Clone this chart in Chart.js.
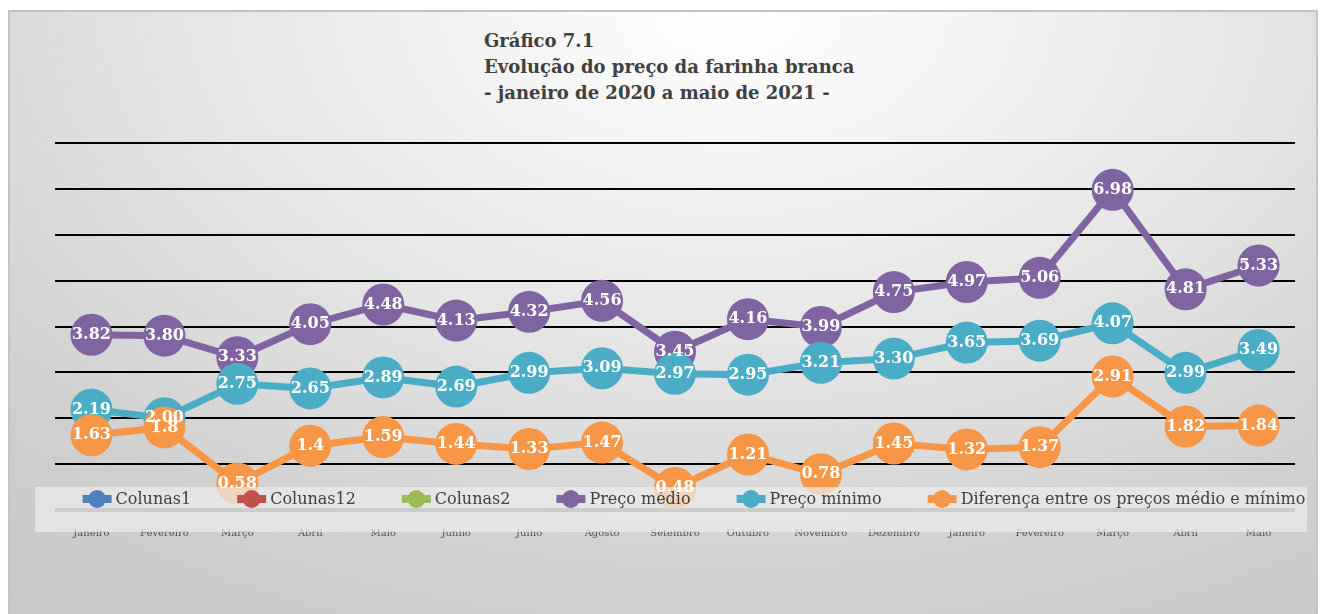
<!DOCTYPE html>
<html>
<head>
<meta charset="utf-8">
<script src="https://cdn.jsdelivr.net/npm/chart.js@4"></script>
<style>
  body { margin: 0; background: #fff; width: 1323px; height: 614px; overflow: hidden; position: relative; }
  #frame {
    position: absolute; left: 8px; top: 10px; width: 1306px; height: 610px;
    border: 2px solid #c4c4c4;
    background: radial-gradient(ellipse 90% 120% at 55% 0%, #ffffff 0%, #e6e6e6 45%, #d2d2d2 75%, #c8c8c8 100%);
  }
  #title {
    position: absolute; left: 484px; top: 28px;
    font-family: "DejaVu Serif", serif; font-weight: bold; font-size: 18px;
    line-height: 26px; color: #404040;
  }
  canvas { position: absolute; left: 0; top: 0; }
</style>
</head>
<body>
<div id="frame"></div>
<div id="title">Gráfico 7.1<br>Evolução do preço da farinha branca<br>- janeiro de 2020 a maio de 2021 -</div>
<canvas id="grafico" width="1323" height="614"></canvas>
<script>
const categorias = ['Janeiro', 'Fevereiro', 'Março', 'Abril', 'Maio', 'Junho', 'Julho', 'Agosto', 'Setembro',
  'Outubro', 'Novembro', 'Dezembro', 'Janeiro', 'Fevereiro', 'Março', 'Abril', 'Maio'];
const colunas1 = [];
const colunas12 = [];
const colunas2 = [];
const precoMedio = [3.82, 3.80, 3.33, 4.05, 4.48, 4.13, 4.32, 4.56, 3.45, 4.16, 3.99, 4.75, 4.97, 5.06, 6.98, 4.81, 5.33];
const precoMinimo = [2.19, 2.00, 2.75, 2.65, 2.89, 2.69, 2.99, 3.09, 2.97, 2.95, 3.21, 3.30, 3.65, 3.69, 4.07, 2.99, 3.49];
const diferenca = [1.63, 1.8, 0.58, 1.4, 1.59, 1.44, 1.33, 1.47, 0.48, 1.21, 0.78, 1.45, 1.32, 1.37, 2.91, 1.82, 1.84];

const serif = '"DejaVu Serif", serif';

function serie(label, data, color, order, fmt) {
  return {
    label: label,
    data: data,
    borderColor: color,
    backgroundColor: color,
    borderWidth: 7,
    pointRadius: 21,
    pointHoverRadius: 21,
    pointBorderWidth: 0,
    order: order,
    clip: false,
    fmt: fmt
  };
}

// legend band + data labels drawn on top of the lines
const rotulos = {
  id: 'rotulos',
  afterDatasetsDraw(chart) {
    const ctx = chart.ctx;
    ctx.save();

    // legend band
    ctx.fillStyle = 'rgba(235,235,235,0.72)';
    ctx.fillRect(35, 487, 1272, 45);

    ctx.font = '16px ' + serif;
    ctx.textBaseline = 'middle';
    const items = chart.data.datasets;
    const gap = 46, mark = 29;
    let total = 0;
    items.forEach(d => { total += mark + 4 + ctx.measureText(d.label).width + gap; });
    total -= gap;
    let x = 694 - total / 2;
    const y = 499;
    items.forEach(d => {
      ctx.strokeStyle = d.borderColor;
      ctx.fillStyle = d.borderColor;
      ctx.lineWidth = 8;
      ctx.beginPath();
      ctx.moveTo(x, y);
      ctx.lineTo(x + mark, y);
      ctx.stroke();
      ctx.beginPath();
      ctx.arc(x + mark / 2, y, 9, 0, Math.PI * 2);
      ctx.fill();
      ctx.fillStyle = '#404040';
      ctx.textAlign = 'left';
      ctx.fillText(d.label, x + mark + 4, y + 1);
      x += mark + 4 + ctx.measureText(d.label).width + gap;
    });

    // data labels
    ctx.font = 'bold 16px ' + serif;
    ctx.fillStyle = '#ffffff';
    ctx.textAlign = 'center';
    [3, 4, 5].forEach(i => {
      const ds = chart.data.datasets[i];
      chart.getDatasetMeta(i).data.forEach((pt, j) => {
        ctx.fillText(ds.fmt(ds.data[j]), pt.x, pt.y);
      });
    });
    ctx.restore();
  }
};

new Chart(document.getElementById('grafico'), {
  type: 'line',
  data: {
    labels: categorias,
    datasets: [
      serie('Colunas1', colunas1, '#4f81bd', 6, v => String(v)),
      serie('Colunas12', colunas12, '#c0504d', 5, v => String(v)),
      serie('Colunas2', colunas2, '#9bbb59', 4, v => String(v)),
      serie('Preço médio', precoMedio, '#8064a2', 3, v => v.toFixed(2)),
      serie('Preço mínimo', precoMinimo, '#4bacc6', 2, v => v.toFixed(2)),
      serie('Diferença entre os preços médio e mínimo', diferenca, '#f79646', 1, v => String(v))
    ]
  },
  options: {
    responsive: false,
    animation: false,
    layout: { padding: { left: 55, right: 28, top: 143, bottom: 58 } },
    plugins: { legend: { display: false }, tooltip: { enabled: false } },
    scales: {
      x: {
        offset: true,
        grid: { display: false, drawTicks: false },
        border: { display: false },
        ticks: { color: '#505050', font: { family: serif, size: 10 }, padding: 17, maxRotation: 0, autoSkip: false }
      },
      y: {
        min: 0,
        max: 8,
        ticks: { display: false, stepSize: 1 },
        border: { display: false },
        grid: {
          drawTicks: false,
          color: c => c.tick.value === 0 ? '#7a7a7a' : '#000000',
          lineWidth: c => c.tick.value === 0 ? 4 : 2
        }
      }
    }
  },
  plugins: [rotulos]
});
</script>
</body>
</html>
